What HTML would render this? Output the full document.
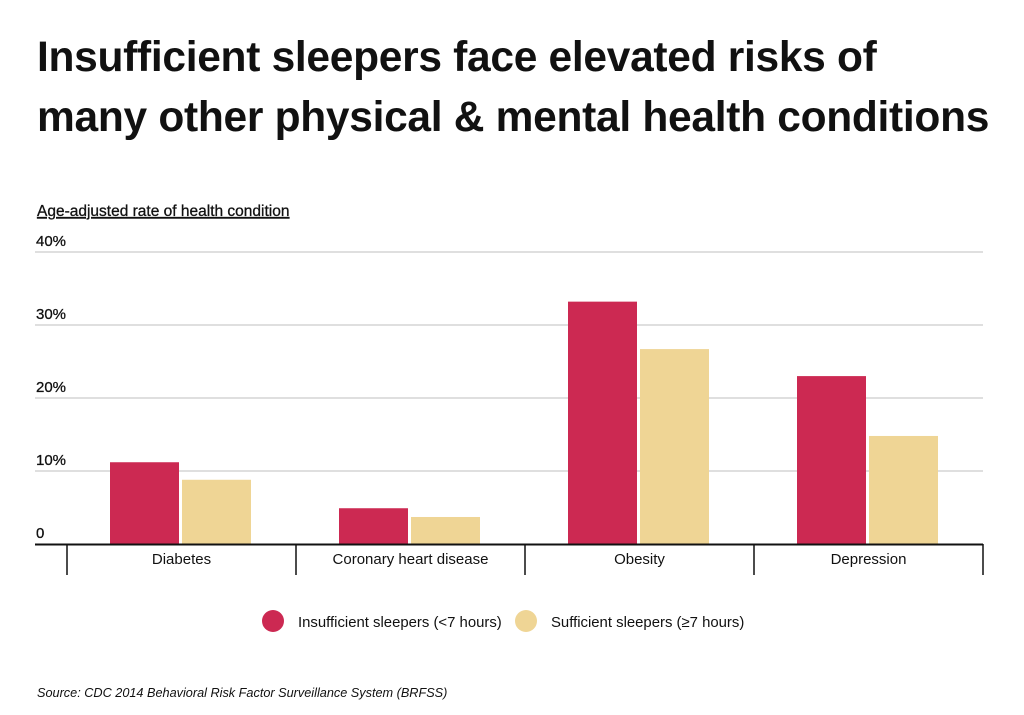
<!DOCTYPE html>
<html><head><meta charset="utf-8"><style>
body{margin:0;background:#fff;font-family:"Liberation Sans",sans-serif;}
#wrap{position:relative;width:1024px;height:715px;overflow:hidden;}
h1{position:absolute;left:37px;top:28px;margin:0;font-size:42.5px;line-height:60px;font-weight:bold;color:#111;letter-spacing:-0.3px;}
</style></head><body>
<div id="wrap">
<h1>Insufficient sleepers face elevated risks of<br>many other physical &amp; mental health conditions</h1>
<svg id="chart" width="1024" height="715" style="position:absolute;left:0;top:0"></svg>
</div>
<script>
const categories=["Diabetes","Coronary heart disease","Obesity","Depression"];
const insufficient=[11.2,4.9,33.2,23.0];
const sufficient=[8.8,3.7,26.7,14.8];
const ticks=[0,10,20,30,40];
const tickLabels=["0","10%","20%","30%","40%"];
const NS="http://www.w3.org/2000/svg";
const svg=document.getElementById('chart');
function mk(t,a,txt){const e=document.createElementNS(NS,t);for(const k in a)e.setAttribute(k,a[k]);if(txt!=null)e.textContent=txt;svg.appendChild(e);return e;}
const y=v=>544-v*7.3;
const bandX=i=>67+i*229;
let e=mk('text',{x:37,y:216,'font-size':15.5,fill:'#111','text-decoration':'underline','stroke':'#111','stroke-width':0.3},'Age-adjusted rate of health condition');


ticks.forEach((t,i)=>{
 if(t>0){const g=mk('line',{x1:35,x2:983,y1:y(t),y2:y(t),stroke:'#ccc','stroke-width':1.2});
 
 }
 const l=mk('text',{x:36,y:y(t)-6,'font-size':15,fill:'#111','stroke':'#111','stroke-width':0.3},tickLabels[i]);
 
 
});
categories.forEach((c,i)=>{
 const b1=mk('rect',{x:bandX(i)+43,y:y(insufficient[i]),width:69,height:544-y(insufficient[i]),fill:'#cc2952'});
 
 
 const b2=mk('rect',{x:bandX(i)+115,y:y(sufficient[i]),width:69,height:544-y(sufficient[i]),fill:'#efd595'});
 
 
 const l=mk('text',{x:bandX(i)+114.5,y:564,'font-size':15,fill:'#111','text-anchor':'middle'},c);
 
 
});
for(let i=0;i<=categories.length;i++){
 const t=mk('line',{x1:bandX(i),x2:bandX(i),y1:544,y2:575,stroke:'#111','stroke-width':1.5});
 
 
}
e=mk('line',{x1:35,x2:983,y1:544.5,y2:544.5,stroke:'#111','stroke-width':2});


e=mk('circle',{cx:273,cy:621,r:11,fill:'#cc2952'});


e=mk('text',{x:298,y:627,'font-size':14.9,fill:'#111'},'Insufficient sleepers (<7 hours)');


e=mk('circle',{cx:526,cy:621,r:11,fill:'#efd595'});


e=mk('text',{x:551,y:627,'font-size':14.9,fill:'#111'},'Sufficient sleepers (≥7 hours)');


e=mk('text',{x:37,y:697,'font-size':12.7,fill:'#111','font-style':'italic'},'Source:  CDC 2014 Behavioral Risk Factor Surveillance System (BRFSS)');


</script>
</body></html>
